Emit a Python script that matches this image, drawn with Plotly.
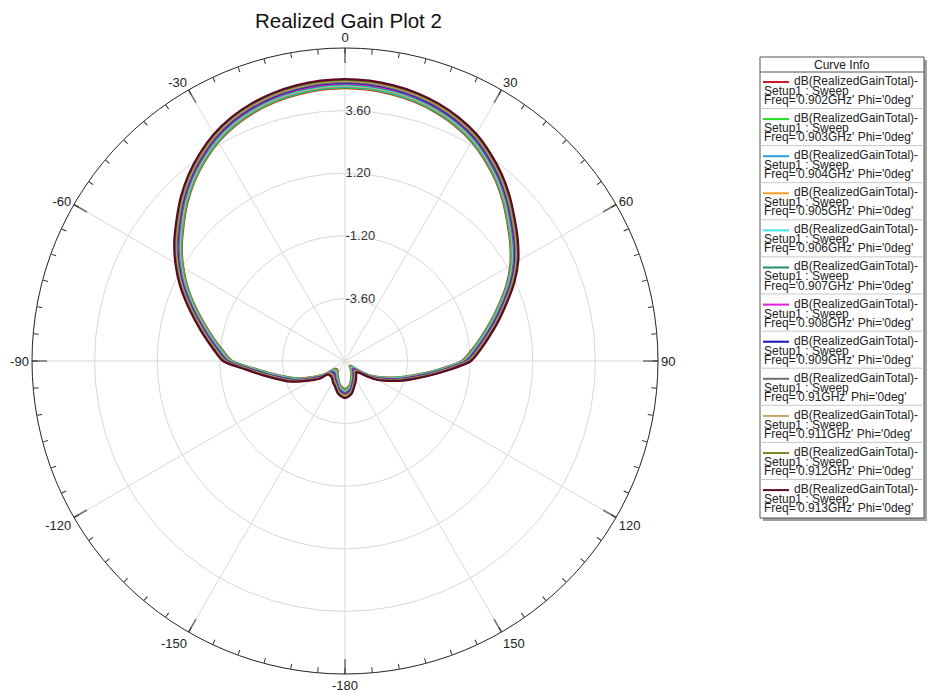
import plotly.graph_objects as go

# ---------------- data ----------------
freqs = ["0.902GHz", "0.903GHz", "0.904GHz", "0.905GHz", "0.906GHz", "0.907GHz",
         "0.908GHz", "0.909GHz", "0.91GHz", "0.911GHz", "0.912GHz", "0.913GHz"]

colors = ["#c8202a", "#22e022", "#2a9fd8", "#f39c2f", "#3ee6e6", "#1f9060",
          "#e020d8", "#1818b0", "#707070", "#c9a26f", "#7b8a2a", "#5a0a28"]

theta_deg = [-180, -175, -167, -160, -150, -140, -135, -128, -125, -120, -115, -110,
             -105, -100, -95, -90, -85, -80, -75, -70, -65, -60, -55, -50, -45, -40,
             -35, -30, -25, -20, -15, -10, -5, 0,
             5, 10, 15, 20, 25, 30, 35, 40, 45, 50, 55, 60, 65, 70, 75, 80, 85, 90,
             95, 100, 105, 110, 115, 120, 125, 130, 135, 140, 150, 160, 168, 175, 180]

# realized gain (dB) of the outermost curve, 0.913 GHz
gain_913 = [-4.58, -4.62, -4.74, -4.92, -5.07, -5.20, -5.20, -5.16, -4.81, -4.54, -4.16, -3.70,
            -3.32, -2.82, -2.20, -1.32, -0.94, -0.52, -0.06, 0.46, 1.00, 1.51, 1.99, 2.43, 2.90, 3.33,
            3.71, 4.05, 4.31, 4.50, 4.64, 4.73, 4.79, 4.81,
            4.79, 4.73, 4.64, 4.50, 4.31, 4.06, 3.72, 3.35, 2.93, 2.49, 2.09, 1.67, 1.17, 0.62, 0.12,
            -0.35, -0.77, -1.17,
            -2.01, -2.74, -3.32, -3.78, -4.20, -4.54, -4.96, -5.31, -5.39, -5.33, -5.16, -4.96, -4.73,
            -4.62, -4.58]

# gain shift of each frequency relative to the 0.913 GHz curve (dB)
shift_db = [-0.35, -0.32, -0.29, -0.26, -0.23, -0.20, -0.17, -0.14, -0.11, -0.07, -0.04, 0.0]

radial_ticks = [-3.6, -1.2, 1.2, 3.6]
radial_labels = ["-3.60", "-1.20", "1.20", "3.60"]
ang_label_vals = [0, 30, 60, 90, 120, 150, 180, 210, 240, 270, 300, 330]
ang_label_text = ["0", "30", "60", "90", "120", "150", "-180", "-150", "-120", "-90", "-60", "-30"]

R_MIN, R_MAX = -6.0, 6.0

# ---------------- figure ----------------
W, H = 942, 692
CX, CY, RAD = 345, 361, 313

def X(x):
    return x / W

def Y(y):
    return 1 - y / H

fig = go.Figure()

# spokes every 30 deg
for a in ang_label_vals:
    fig.add_trace(go.Scatterpolar(r=[R_MIN, R_MAX], theta=[a, a], mode="lines",
                                  line=dict(color="#d8d8d8", width=1),
                                  hoverinfo="skip", showlegend=False))
# major tick marks
major_len = 15 * (R_MAX - R_MIN) / RAD
for a in ang_label_vals:
    fig.add_trace(go.Scatterpolar(r=[R_MAX - major_len, R_MAX], theta=[a, a], mode="lines",
                                  line=dict(color="#707070", width=1.5),
                                  hoverinfo="skip", showlegend=False))

for f, c, s in zip(freqs, colors, shift_db):
    fig.add_trace(go.Scatterpolar(
        r=[g + s for g in gain_913], theta=theta_deg, mode="lines",
        line=dict(color=c, width=2.2, shape="spline", smoothing=0.8),
        name=f, showlegend=False))

ang_ticks = list(range(0, 360, 5))
ang_text = [ang_label_text[ang_label_vals.index(t)] if t in ang_label_vals else "" for t in ang_ticks]

fig.update_layout(
    width=W, height=H,
    margin=dict(l=0, r=0, t=0, b=0, pad=0, autoexpand=False),
    paper_bgcolor="white",
    font=dict(family="Arial, Liberation Sans, sans-serif", color="#222"),
    polar=dict(
        domain=dict(x=[(CX - RAD) / W, (CX + RAD) / W],
                    y=[(H - CY - RAD) / H, (H - CY + RAD) / H]),
        bgcolor="white",
        angularaxis=dict(rotation=90, direction="clockwise", tickmode="array",
                         tickvals=ang_ticks, ticktext=ang_text, ticks="inside",
                         ticklen=5, tickcolor="#333", showgrid=False,
                         showline=True, linecolor="#222", linewidth=1,
                         tickfont=dict(size=13, color="#222")),
        radialaxis=dict(range=[R_MIN, R_MAX], tickmode="array", tickvals=radial_ticks,
                        ticktext=radial_labels, angle=90, tickangle=90, side="clockwise",
                        showline=False, ticks="", gridcolor="#d8d8d8", gridwidth=1,
                        tickfont=dict(size=13, color="#333")),
    ),
)

# title
fig.add_annotation(x=X(348), y=Y(20), xref="paper", yref="paper", text="Realized Gain Plot 2",
                   showarrow=False, font=dict(size=20.5, color="#111"),
                   xanchor="center", yanchor="middle")

# ---------------- legend (Curve Info box) ----------------
LX0, LX1, LY0, LY1 = 760, 924, 57, 518
fig.add_shape(type="rect", xref="paper", yref="paper", x0=X(LX0 + 3), x1=X(LX1 + 3),
              y0=Y(LY1 + 3), y1=Y(LY0 + 3), fillcolor="#a0a0a0", line=dict(width=0), layer="above")
fig.add_shape(type="rect", xref="paper", yref="paper", x0=X(LX0), x1=X(LX1),
              y0=Y(LY1), y1=Y(LY0), fillcolor="white", line=dict(color="#555", width=1), layer="above")
fig.add_annotation(x=X((LX0 + LX1) / 2), y=Y(64.5), xref="paper", yref="paper", text="Curve Info",
                   showarrow=False, font=dict(size=12, color="#222"), xanchor="center", yanchor="middle")
fig.add_shape(type="line", xref="paper", yref="paper", x0=X(LX0), x1=X(LX1), y0=Y(72), y1=Y(72),
              line=dict(color="#555", width=1), layer="above")

PITCH = 37.1
for i, (f, c) in enumerate(zip(freqs, colors)):
    y0 = 81 + i * PITCH
    fig.add_shape(type="line", xref="paper", yref="paper", x0=X(763), x1=X(789),
                  y0=Y(y0 + 1), y1=Y(y0 + 1), line=dict(color=c, width=2), layer="above")
    fig.add_annotation(x=X(792), y=Y(y0), xref="paper", yref="paper", text="dB(RealizedGainTotal)-",
                       showarrow=False, font=dict(size=12, color="#222"), xanchor="left", yanchor="middle")
    fig.add_annotation(x=X(762), y=Y(y0 + 10), xref="paper", yref="paper", text="Setup1 : Sweep",
                       showarrow=False, font=dict(size=12, color="#222"), xanchor="left", yanchor="middle")
    fig.add_annotation(x=X(762), y=Y(y0 + 19), xref="paper", yref="paper",
                       text="Freq='%s' Phi='0deg'" % f,
                       showarrow=False, font=dict(size=12, color="#222"), xanchor="left", yanchor="middle")
    if i < len(freqs) - 1:
        ys = y0 + 27.5
        fig.add_shape(type="line", xref="paper", yref="paper", x0=X(LX0), x1=X(LX1), y0=Y(ys), y1=Y(ys),
                      line=dict(color="#c8c8c8", width=1), layer="above")

fig.write_html("out.html", config={"displayModeBar": False},
               post_script="document.body.style.margin='0px';")
